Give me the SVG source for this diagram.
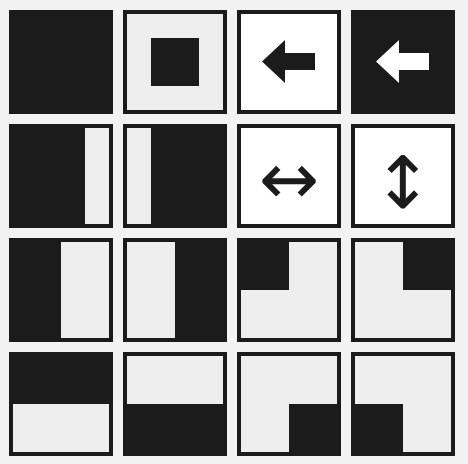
<svg xmlns="http://www.w3.org/2000/svg" width="468" height="464" viewBox="0 0 468 464">
<style>
.bg{fill:#f2f2f2}
.dk{fill:#1b1b1b}
.lt{fill:#eeeeee}
.wh{fill:#ffffff}
.glyph{font-family:"DejaVu Sans",sans-serif;font-size:72px;fill:#1b1b1b;text-anchor:middle}
</style>
<rect class="bg" x="0" y="0" width="468" height="464"/>
<g id="tile-1"><rect class="dk" x="9" y="10" width="104" height="104"/></g>
<g id="tile-2"><rect class="dk" x="123" y="10" width="104" height="104"/><rect class="lt" x="127" y="14" width="96" height="96"/><rect class="dk" x="151" y="38" width="48" height="48"/></g>
<g id="tile-3"><rect class="dk" x="237" y="10" width="104" height="104"/><rect class="wh" x="241" y="14" width="96" height="96"/><polygon class="dk" points="262,61.5 285,40 285,53 315,53 315,70 285,70 285,83"/></g>
<g id="tile-4"><rect class="dk" x="351" y="10" width="104" height="104"/><polygon class="wh" points="376,61.5 399,40 399,53 429,53 429,70 399,70 399,83"/></g>
<g id="tile-5"><rect class="dk" x="9" y="124" width="104" height="104"/><rect class="lt" x="85" y="128" width="24" height="96"/></g>
<g id="tile-6"><rect class="dk" x="123" y="124" width="104" height="104"/><rect class="lt" x="127" y="128" width="24" height="96"/></g>
<g id="tile-7"><rect class="dk" x="237" y="124" width="104" height="104"/><rect class="wh" x="241" y="128" width="96" height="96"/><text class="glyph" x="289" y="204">↔</text></g>
<g id="tile-8"><rect class="dk" x="351" y="124" width="104" height="104"/><rect class="wh" x="355" y="128" width="96" height="96"/><text class="glyph" x="403" y="208">↕</text></g>
<g id="tile-9"><rect class="dk" x="9" y="238" width="104" height="104"/><rect class="lt" x="61" y="242" width="48" height="96"/></g>
<g id="tile-10"><rect class="dk" x="123" y="238" width="104" height="104"/><rect class="lt" x="127" y="242" width="48" height="96"/></g>
<g id="tile-11"><rect class="dk" x="237" y="238" width="104" height="104"/><rect class="lt" x="241" y="242" width="96" height="96"/><rect class="dk" x="237" y="238" width="52" height="52"/></g>
<g id="tile-12"><rect class="dk" x="351" y="238" width="104" height="104"/><rect class="lt" x="355" y="242" width="96" height="96"/><rect class="dk" x="403" y="238" width="52" height="52"/></g>
<g id="tile-13"><rect class="dk" x="9" y="352" width="104" height="104"/><rect class="lt" x="13" y="404" width="96" height="48"/></g>
<g id="tile-14"><rect class="dk" x="123" y="352" width="104" height="104"/><rect class="lt" x="127" y="356" width="96" height="48"/></g>
<g id="tile-15"><rect class="dk" x="237" y="352" width="104" height="104"/><rect class="lt" x="241" y="356" width="96" height="96"/><rect class="dk" x="289" y="404" width="52" height="52"/></g>
<g id="tile-16"><rect class="dk" x="351" y="352" width="104" height="104"/><rect class="lt" x="355" y="356" width="96" height="96"/><rect class="dk" x="351" y="404" width="52" height="52"/></g>
<g id="connectors"></g>
</svg>
